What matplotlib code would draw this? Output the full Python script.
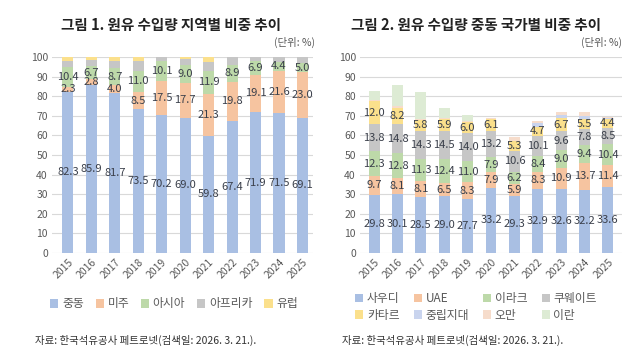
import matplotlib
matplotlib.use('Agg')
import matplotlib.pyplot as plt
import numpy as np
from matplotlib.patches import Patch

plt.rcParams['font.family'] = ['Noto Sans CJK KR', 'DejaVu Sans']

years = ['2015', '2016', '2017', '2018', '2019', '2020', '2021', '2022', '2023', '2024', '2025']

# Figure 1: regional shares (%)
reg_names = ['중동', '미주', '아시아', '아프리카', '유럽']
r_me = [82.3, 85.9, 81.7, 73.5, 70.2, 69.0, 59.8, 67.4, 71.9, 71.5, 69.1]
r_am = [2.3, 2.8, 4.0, 8.5, 17.5, 17.7, 21.3, 19.8, 19.1, 21.6, 23.0]
r_as = [10.4, 6.7, 8.7, 11.0, 10.1, 9.0, 11.9, 8.9, 6.9, 4.4, 5.0]
r_af = [3.2, 3.0, 3.6, 5.0, 2.2, 3.3, 4.5, 3.9, 2.1, 2.5, 2.9]
r_eu = [1.8, 1.6, 2.0, 2.0, 0.0, 1.0, 2.5, 0.0, 0.0, 0.0, 0.0]

# Figure 2: Middle East country shares (%)
cty_names = ['사우디', 'UAE', '이라크', '쿠웨이트', '카타르', '중립지대', '오만', '이란']
c_sa = [29.8, 30.1, 28.5, 29.0, 27.7, 33.2, 29.3, 32.9, 32.6, 32.2, 33.6]
c_uae = [9.7, 8.1, 8.1, 6.5, 8.3, 7.9, 5.9, 8.3, 10.9, 13.7, 11.4]
c_iq = [12.3, 12.8, 11.3, 12.4, 11.0, 7.9, 6.2, 8.4, 9.0, 9.4, 10.4]
c_kw = [13.8, 14.8, 14.3, 14.5, 14.0, 13.2, 10.6, 10.1, 9.6, 7.8, 8.5]
c_qa = [12.0, 8.2, 5.8, 5.9, 6.0, 6.1, 5.3, 4.7, 6.7, 5.5, 4.4]
c_nz = [0.0, 0.0, 0.0, 0.0, 0.0, 0.0, 0.0, 2.0, 1.5, 1.5, 0.5]
c_om = [0.5, 1.2, 0.5, 0.5, 0.3, 0.5, 1.8, 1.2, 1.5, 1.7, 0.5]
c_ir = [4.4, 10.5, 13.5, 5.0, 3.2, 0.0, 0.0, 0.0, 0.0, 0.0, 0.0]

reg_colors = ['#A9BFE3', '#F6C4A0', '#BDD9A9', '#C6C6C6', '#FBE08C']
cty_colors = ['#A9BFE3', '#F6C4A0', '#BDD9A9', '#C6C6C6', '#FBE08C', '#C9D4EE', '#F6DCCB', '#DDEBD4']
label_color = '#3A3F4A'
tick_color = '#595959'

fig = plt.figure(figsize=(6.4, 3.58), dpi=100)
fig.patch.set_facecolor('white')


def style_axes(ax, xlim):
    ax.set_ylim(0, 100)
    ax.set_yticks(np.arange(0, 101, 10))
    ax.set_xlim(*xlim)
    ax.grid(axis='y', color='#D9D9D9', linewidth=0.8)
    ax.set_axisbelow(True)
    for s in ax.spines.values():
        s.set_visible(False)
    ax.tick_params(axis='both', length=0, labelsize=7.5, colors=tick_color, pad=3)
    ax.set_xticks(np.arange(len(years)))
    ax.set_xticklabels(years, rotation=45, ha='right', rotation_mode='anchor')


def stacked(ax, series, colors, labeled):
    x = np.arange(len(years))
    bottom = np.zeros(len(years))
    for i, (vals, col) in enumerate(zip(series, colors)):
        vals = np.array(vals)
        ax.bar(x, vals, 0.47, bottom=bottom, color=col, edgecolor='none')
        if i in labeled:
            for xi, b, v in zip(x, bottom, vals):
                ax.text(xi, b + v / 2, f'{v:.1f}', ha='center', va='center',
                        fontsize=8, color=label_color)
        bottom += vals


# ---- Chart 1 ----
ax1 = fig.add_axes([52 / 640, 1 - 253 / 358, (313 - 52) / 640, (253 - 57) / 358])
style_axes(ax1, (-0.68, 10.45))
stacked(ax1, [r_me, r_am, r_as, r_af, r_eu], reg_colors, labeled=[0, 1, 2])
fig.text(171 / 640, 1 - 25 / 358, '그림 1. 원유 수입량 지역별 비중 추이', ha='center', va='center',
         fontsize=10.5, fontweight='bold', color='#222222')
fig.text(315 / 640, 1 - 42 / 358, '(단위: %)', ha='right', va='center', fontsize=7.5, color=tick_color)
h1 = [Patch(facecolor=c, edgecolor='none') for c in reg_colors]
fig.legend(h1, reg_names, loc='center', bbox_to_anchor=(174 / 640, 1 - 304 / 358), ncol=5,
           frameon=False, fontsize=8.5, handlelength=0.7, handleheight=0.7, handletextpad=0.3,
           columnspacing=1.0, labelcolor=tick_color)
fig.text(35 / 640, 1 - 340 / 358, '자료: 한국석유공사 페트로넷(검색일: 2026. 3. 21.).', ha='left', va='center',
         fontsize=7.5, color='#333333')

# ---- Chart 2 ----
ax2 = fig.add_axes([360 / 640, 1 - 253 / 358, (622 - 360) / 640, (253 - 57) / 358])
style_axes(ax2, (-0.6, 10.6))
stacked(ax2, [c_sa, c_uae, c_iq, c_kw, c_qa, c_nz, c_om, c_ir], cty_colors, labeled=[0, 1, 2, 3, 4])
fig.text(476 / 640, 1 - 25 / 358, '그림 2. 원유 수입량 중동 국가별 비중 추이', ha='center', va='center',
         fontsize=10.5, fontweight='bold', color='#222222')
fig.text(622 / 640, 1 - 42 / 358, '(단위: %)', ha='right', va='center', fontsize=7.5, color=tick_color)
h2 = [Patch(facecolor=c, edgecolor='none') for c in cty_colors]
order = [0, 4, 1, 5, 2, 6, 3, 7]
fig.legend([h2[i] for i in order], [cty_names[i] for i in order], loc='upper left',
           bbox_to_anchor=(355 / 640, 1 - 292 / 358), ncol=4, frameon=False, fontsize=8.5,
           handlelength=0.7, handleheight=0.7, handletextpad=0.3, columnspacing=1.2,
           labelspacing=0.3, labelcolor=tick_color, borderpad=0, borderaxespad=0)
fig.text(342 / 640, 1 - 340 / 358, '자료: 한국석유공사 페트로넷(검색일: 2026. 3. 21.).', ha='left', va='center',
         fontsize=7.5, color='#333333')

fig.savefig('out.png', dpi=100, facecolor='white')
